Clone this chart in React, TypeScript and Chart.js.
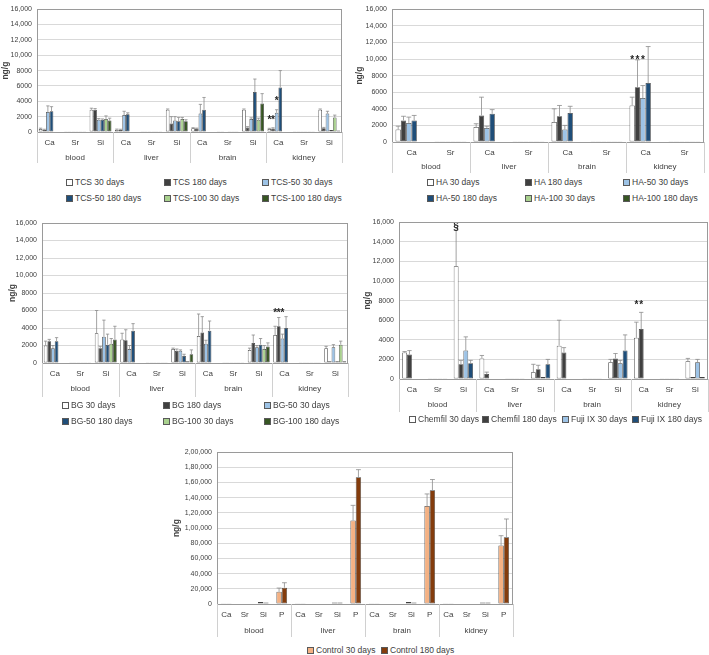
import React, { useEffect, useRef } from 'react';
import { Chart, registerables } from 'chart.js';
Chart.register(...registerables);

const FONT = "'Liberation Sans Narrow', 'Liberation Sans', Arial, sans-serif";

// ---------- categories ----------
const groups = ['blood', 'liver', 'brain', 'kidney'];
const elems3 = ['Ca', 'Sr', 'Si'];
const elems2 = ['Ca', 'Sr'];
const elems4 = ['Ca', 'Sr', 'Si', 'P'];
const ticks16k = ['0', '2000', '4000', '6000', '8000', '10,000', '12,000', '14,000', '16,000'];
const ticks200k = ['0', '20,000', '40,000', '60,000', '80,000', '1,00,000', '1,20,000', '1,40,000', '1,60,000', '1,80,000', '2,00,000'];

// ---------- colours ----------
const C_WHITE = '#ffffff';
const C_GRAY = '#404040';
const C_LBLUE = '#9dc3e6';
const C_DBLUE = '#1f4e79';
const C_LGREEN = '#a9d18e';
const C_DGREEN = '#375623';
const C_LORANGE = '#f4b183';
const C_BROWN = '#843c0c';

// ---------- TCS panel (blood Ca Sr Si, liver..., brain..., kidney...) ----------
const tcsNames = ['TCS 30 days', 'TCS 180 days', 'TCS-50 30 days', 'TCS-50 180 days', 'TCS-100 30 days', 'TCS-100 180 days'];
const tcs30 = [400, 20, 2900, 300, 20, 2900, 500, 30, 2900, 400, 20, 2900];
const tcs30Err = [100, 0, 200, 80, 0, 100, 60, 0, 100, 80, 0, 100];
const tcs180 = [300, 20, 2900, 300, 20, 1100, 450, 30, 600, 450, 20, 500];
const tcs180Err = [60, 0, 150, 60, 0, 900, 60, 0, 100, 100, 0, 100];
const tcs50d30 = [2600, 20, 1600, 2200, 20, 1500, 2400, 60, 1700, 2500, 20, 2400];
const tcs50d30Err = [800, 0, 150, 500, 0, 500, 1200, 0, 150, 400, 0, 300];
const tcs50d180 = [2700, 20, 1600, 2300, 20, 1400, 2900, 30, 5200, 5800, 20, 250];
const tcs50d180Err = [600, 0, 100, 200, 0, 500, 1600, 0, 1700, 2200, 0, 0];
const tcs100d30 = [null, 20, 1700, null, 20, 1700, null, 30, 1600, null, 20, 1900];
const tcs100d30Err = [0, 0, 400, 0, 0, 200, 0, 0, 200, 0, 0, 300];
const tcs100d180 = [null, 20, 1500, null, 20, 1400, null, 30, 3700, null, 20, 200];
const tcs100d180Err = [0, 0, 300, 0, 0, 200, 0, 0, 1300, 0, 0, 0];
const tcsMarks = [
  { series: 0, index: 9, value: 1500, text: '*' },
  { series: 1, index: 9, value: 1500, text: '*' },
  { series: 2, index: 9, value: 4000, text: '*' },
];

// ---------- HA panel (blood Ca Sr, liver..., brain..., kidney...) ----------
const haNames = ['HA 30 days', 'HA 180 days', 'HA-50 30 days', 'HA-50 180 days', 'HA-100 30 days', 'HA-100 180 days'];
const ha30 = [1500, 20, 1800, 20, 2400, 20, 4400, 20];
const ha30Err = [400, 0, 400, 0, 1600, 0, 1000, 0];
const ha180 = [2600, 20, 3200, 20, 3100, 20, 6600, 20];
const ha180Err = [500, 0, 2200, 0, 1300, 0, 3300, 0];
const ha50d30 = [2300, 20, 1700, 20, 1500, 20, 5300, 20];
const ha50d30Err = [700, 0, 200, 0, 500, 0, 1500, 0];
const ha50d180 = [2600, 20, 3400, 20, 3500, 20, 7100, 20];
const ha50d180Err = [600, 0, 500, 0, 800, 0, 4400, 0];
const ha100d30 = [null, 20, null, 20, null, 20, null, 20];
const ha100d30Err = [0, 0, 0, 0, 0, 0, 0, 0];
const ha100d180 = [null, 20, null, 20, null, 20, null, 20];
const ha100d180Err = [0, 0, 0, 0, 0, 0, 0, 0];
const haMarks = [
  { series: 0, index: 6, value: 9900, text: '*' },
  { series: 1, index: 6, value: 9900, text: '*' },
  { series: 2, index: 6, value: 9900, text: '*' },
];

// ---------- BG panel ----------
const bgNames = ['BG 30 days', 'BG 180 days', 'BG-50 30 days', 'BG-50 180 days', 'BG-100 30 days', 'BG-100 180 days'];
const bg30 = [2000, 20, 3400, 2700, 20, 1600, 3100, 40, 1500, 3200, 30, 1700];
const bg30Err = [500, 0, 2600, 700, 0, 100, 2500, 0, 200, 1000, 0, 200];
const bg180 = [2500, 20, 1700, 2600, 20, 1400, 3500, 40, 2300, 4200, 30, 200];
const bg180Err = [200, 0, 200, 1200, 0, 200, 1800, 0, 900, 1000, 0, 0];
const bg50d30 = [1700, 20, 3000, 1600, 20, 1400, 2200, 40, 1800, 2800, 30, 1800];
const bg50d30Err = [300, 0, 1900, 400, 0, 100, 400, 0, 200, 500, 0, 300];
const bg50d180 = [2500, 20, 2100, 3700, 20, 800, 3700, 40, 2100, 4000, 30, 200];
const bg50d180Err = [400, 0, 1200, 800, 0, 200, 1100, 0, 700, 1300, 0, 0];
const bg100d30 = [null, 20, 2200, null, 20, 200, null, 40, 1600, null, 30, 2100];
const bg100d30Err = [0, 0, 600, 0, 0, 0, 0, 0, 400, 0, 0, 400];
const bg100d180 = [null, 20, 2700, null, 20, 1000, null, 40, 1900, null, 30, 200];
const bg100d180Err = [0, 0, 1500, 0, 0, 500, 0, 0, 400, 0, 0, 0];
const bgMarks = [
  { series: 0, index: 9, value: 5700, text: '*' },
  { series: 1, index: 9, value: 5700, text: '*' },
  { series: 2, index: 9, value: 5700, text: '*' },
];

// ---------- Chemfil / Fuji IX panel ----------
const chNames = ['Chemfil 30 days', 'Chemfil 180 days', 'Fuji IX 30 days', 'Fuji IX 180 days'];
const ch30 = [2700, 20, 11500, 2100, 20, 700, 3400, 30, 1700, 4200, 30, 1800];
const ch30Err = [100, 0, 3700, 300, 0, 800, 2600, 0, 300, 1600, 0, 300];
const ch180 = [2500, 20, 1500, 500, 20, 1000, 2700, 30, 2100, 5100, 30, 200];
const ch180Err = [400, 0, 400, 200, 0, 400, 500, 0, 500, 1700, 0, 0];
const fuji30 = [null, 20, 2900, null, 20, 200, null, 30, 1600, null, 30, 1700];
const fuji30Err = [0, 0, 1400, 0, 0, 0, 0, 0, 300, 0, 0, 300];
const fuji180 = [null, 20, 1600, null, 20, 1500, null, 30, 2900, null, 30, 200];
const fuji180Err = [0, 0, 300, 0, 0, 500, 0, 0, 1600, 0, 0, 0];
const chMarks = [
  { series: 0, index: 2, value: 15500, text: '§' },
  { series: 0, index: 9, value: 7500, text: '*' },
  { series: 1, index: 9, value: 7500, text: '*' },
];

// ---------- Control panel (blood Ca Sr Si P, ...) ----------
const ctlNames = ['Control 30 days', 'Control 180 days'];
const ctl30 = [300, null, 2500, 16000, 300, null, 2000, 110000, 300, null, 2500, 129000, 300, null, 2000, 77000];
const ctl30Err = [0, 0, 0, 5000, 0, 0, 0, 20000, 0, 0, 0, 16000, 0, 0, 0, 13000];
const ctl180 = [300, null, 2000, 21500, 300, null, 2000, 167000, 300, null, 2000, 150000, 300, null, 2000, 88000];
const ctl180Err = [0, 0, 0, 6500, 0, 0, 0, 10000, 0, 0, 0, 14000, 0, 0, 0, 24000];

type Series = { label: string; data: (number | null)[]; err: number[]; color: string };
type Mark = { series: number; index: number; value: number; text: string };
type Box = { left: number; top: number; width: number; height: number };
type Plot = { l: number; t: number; r: number; b: number };

function expand(elems: string[]) {
  const out: string[] = [];
  groups.forEach(() => elems.forEach((e) => out.push(e)));
  return out;
}

interface PanelProps {
  box: Box;
  plot: Plot;
  elems: string[];
  series: Series[];
  yMax: number;
  yStep: number;
  yTicks: string[];
  marks: Mark[];
  catPct: number;
  titleX: number;
  divLen: number;
  groupDy: number;
}

function BarPanel(props: PanelProps) {
  const ref = useRef<HTMLCanvasElement>(null);
  useEffect(() => {
    const { box, plot, elems, series, yMax, yStep, yTicks, marks, catPct, titleX, divLen, groupDy } = props;
    const labels = expand(elems);
    const extras = {
      id: 'extras',
      afterDatasetsDraw(chart: any) {
        const ctx = chart.ctx;
        const y = chart.scales.y;
        ctx.save();
        ctx.strokeStyle = '#8c8c8c';
        ctx.lineWidth = 0.8;
        series.forEach((s, i) => {
          const meta = chart.getDatasetMeta(i);
          meta.data.forEach((el: any, j: number) => {
            const v = s.data[j];
            const e = s.err[j];
            if (v == null || !e) return;
            const top = y.getPixelForValue(v + e);
            const hw = Math.max(1.5, el.width * 0.45);
            ctx.beginPath();
            ctx.moveTo(el.x, el.y);
            ctx.lineTo(el.x, top);
            ctx.moveTo(el.x - hw, top);
            ctx.lineTo(el.x + hw, top);
            ctx.stroke();
          });
        });
        ctx.fillStyle = '#262626';
        ctx.font = `bold 10px ${FONT}`;
        ctx.textAlign = 'center';
        ctx.textBaseline = 'middle';
        marks.forEach((m) => {
          const el = chart.getDatasetMeta(m.series).data[m.index];
          if (el) ctx.fillText(m.text, el.x, y.getPixelForValue(m.value));
        });
        ctx.restore();
      },
      afterDraw(chart: any) {
        const ctx = chart.ctx;
        const a = chart.chartArea;
        const x = chart.scales.x;
        ctx.save();
        ctx.strokeStyle = '#9a9a9a';
        ctx.lineWidth = 1;
        ctx.strokeRect(Math.round(a.left) + 0.5, Math.round(a.top) + 0.5, Math.round(a.right - a.left) - 1, Math.round(a.bottom - a.top));
        const per = elems.length;
        ctx.strokeStyle = '#d0d0d0';
        for (let g = 0; g <= groups.length; g++) {
          const px = Math.round(x.getPixelForValue(g * per - 0.5)) + 0.5;
          ctx.beginPath();
          ctx.moveTo(px, a.bottom);
          ctx.lineTo(px, a.bottom + divLen);
          ctx.stroke();
        }
        ctx.fillStyle = '#404040';
        ctx.font = `8px ${FONT}`;
        ctx.textAlign = 'center';
        ctx.textBaseline = 'middle';
        groups.forEach((gName, g) => {
          const l = x.getPixelForValue(g * per - 0.5);
          const r = x.getPixelForValue((g + 1) * per - 0.5);
          ctx.fillText(gName, (l + r) / 2, a.bottom + groupDy);
        });
        ctx.restore();
      },
    };

    const chart = new Chart(ref.current as HTMLCanvasElement, {
      type: 'bar',
      data: {
        labels,
        datasets: series.map((s) => ({
          label: s.label,
          data: s.data,
          backgroundColor: s.color,
          borderColor: '#404040',
          borderWidth: 0.75,
          borderSkipped: false,
          categoryPercentage: catPct,
          barPercentage: 1,
        })),
      },
      options: {
        animation: false,
        responsive: false,
        layout: {
          padding: { left: 0, top: plot.t - box.top, right: box.left + box.width - plot.r, bottom: 0 },
        },
        plugins: { legend: { display: false }, tooltip: { enabled: false } },
        scales: {
          x: {
            type: 'category',
            grid: { display: false, drawTicks: false },
            border: { display: false },
            ticks: {
              font: { family: FONT, size: 8 },
              color: '#404040',
              padding: 6,
              autoSkip: false,
              maxRotation: 0,
              minRotation: 0,
            },
            afterFit: (s: any) => {
              s.height = box.top + box.height - plot.b;
            },
          },
          y: {
            min: 0,
            max: yMax,
            grid: { color: '#d9d9d9', drawTicks: false, lineWidth: 1 },
            border: { display: false },
            ticks: {
              stepSize: yStep,
              autoSkip: false,
              font: { family: FONT, size: 7 },
              color: '#404040',
              padding: 5,
              callback: (_v: any, i: number) => yTicks[i],
            },
            title: {
              display: true,
              text: 'ng/g',
              font: { family: FONT, size: 8.5, weight: 'bold' },
              color: '#404040',
              padding: { top: Math.max(0, titleX - 5.1), bottom: 0 },
            },
            afterFit: (s: any) => {
              s.width = plot.l - box.left;
            },
          },
        },
      },
      plugins: [extras],
    } as any);
    return () => chart.destroy();
  }, []);
  const { box } = props;
  return (
    <canvas
      ref={ref}
      width={box.width}
      height={box.height}
      style={{ position: 'absolute', left: box.left, top: box.top, width: box.width, height: box.height, display: 'block' }}
    />
  );
}

function Legend({ items, xs, ys }: { items: { label: string; color: string }[]; xs: number[]; ys: number[] }) {
  return (
    <>
      {items.map((it, k) => {
        const col = k % xs.length;
        const row = Math.floor(k / xs.length);
        return (
          <div
            key={it.label}
            style={{
              position: 'absolute',
              left: xs[col],
              top: ys[row] - 6,
              height: 12,
              display: 'flex',
              alignItems: 'center',
              whiteSpace: 'nowrap',
              fontFamily: FONT,
              fontSize: 8.5,
              color: '#404040',
            }}
          >
            <span
              style={{
                display: 'inline-block',
                width: 5,
                height: 5,
                border: '1px solid #595959',
                background: it.color,
                marginRight: 2,
              }}
            />
            {it.label}
          </div>
        );
      })}
    </>
  );
}

function mk(names: string[], data: (number | null)[][], errs: number[][], colors: string[]): Series[] {
  return names.map((n, i) => ({ label: n, data: data[i], err: errs[i], color: colors[i] }));
}

const six = [C_WHITE, C_GRAY, C_LBLUE, C_DBLUE, C_LGREEN, C_DGREEN];
const four = [C_WHITE, C_GRAY, C_LBLUE, C_DBLUE];
const two = [C_LORANGE, C_BROWN];

const tcsSeries = mk(tcsNames, [tcs30, tcs180, tcs50d30, tcs50d180, tcs100d30, tcs100d180], [tcs30Err, tcs180Err, tcs50d30Err, tcs50d180Err, tcs100d30Err, tcs100d180Err], six);
const haSeries = mk(haNames, [ha30, ha180, ha50d30, ha50d180, ha100d30, ha100d180], [ha30Err, ha180Err, ha50d30Err, ha50d180Err, ha100d30Err, ha100d180Err], six);
const bgSeries = mk(bgNames, [bg30, bg180, bg50d30, bg50d180, bg100d30, bg100d180], [bg30Err, bg180Err, bg50d30Err, bg50d180Err, bg100d30Err, bg100d180Err], six);
const chSeries = mk(chNames, [ch30, ch180, fuji30, fuji180], [ch30Err, ch180Err, fuji30Err, fuji180Err], four);
const ctlSeries = mk(ctlNames, [ctl30, ctl180], [ctl30Err, ctl180Err], two);

const legendItems = (s: Series[]) => s.map((x) => ({ label: x.label, color: x.color }));

export default function App() {
  return (
    <div style={{ position: 'absolute', left: 0, top: 0, width: 709, height: 655, background: '#fff', overflow: 'hidden' }}>
      <BarPanel
        box={{ left: 0, top: 0, width: 350, height: 168 }}
        plot={{ l: 37, t: 5, r: 342, b: 132 }}
        elems={elems3}
        series={tcsSeries}
        yMax={16000}
        yStep={2000}
        yTicks={ticks16k}
        marks={tcsMarks}
        catPct={0.86}
        titleX={6}
        divLen={31}
        groupDy={26}
      />
      <Legend items={legendItems(tcsSeries)} xs={[66, 164, 262]} ys={[182, 198]} />

      <BarPanel
        box={{ left: 355, top: 0, width: 354, height: 176 }}
        plot={{ l: 392, t: 5, r: 704, b: 142 }}
        elems={elems2}
        series={haSeries}
        yMax={16000}
        yStep={2000}
        yTicks={ticks16k}
        marks={haMarks}
        catPct={0.82}
        titleX={5}
        divLen={31}
        groupDy={25}
      />
      <Legend items={legendItems(haSeries)} xs={[427, 525, 623]} ys={[182, 198]} />

      <BarPanel
        box={{ left: 0, top: 213, width: 355, height: 187 }}
        plot={{ l: 42, t: 223, r: 348, b: 363 }}
        elems={elems3}
        series={bgSeries}
        yMax={16000}
        yStep={2000}
        yTicks={ticks16k}
        marks={bgMarks}
        catPct={0.86}
        titleX={13}
        divLen={34}
        groupDy={26}
      />
      <Legend items={legendItems(bgSeries)} xs={[62, 163, 264]} ys={[405, 421]} />

      <BarPanel
        box={{ left: 355, top: 213, width: 354, height: 202 }}
        plot={{ l: 399, t: 222, r: 708, b: 379 }}
        elems={elems3}
        series={chSeries}
        yMax={16000}
        yStep={2000}
        yTicks={ticks16k}
        marks={chMarks}
        catPct={0.75}
        titleX={13}
        divLen={33}
        groupDy={26}
      />
      <Legend items={legendItems(chSeries)} xs={[409, 482, 562, 632]} ys={[419]} />

      <BarPanel
        box={{ left: 170, top: 443, width: 355, height: 198 }}
        plot={{ l: 217, t: 452, r: 513, b: 604 }}
        elems={elems4}
        series={ctlSeries}
        yMax={200000}
        yStep={20000}
        yTicks={ticks200k}
        marks={[]}
        catPct={0.58}
        titleX={7}
        divLen={33}
        groupDy={27}
      />
      <Legend items={legendItems(ctlSeries)} xs={[307, 381]} ys={[650]} />
    </div>
  );
}
